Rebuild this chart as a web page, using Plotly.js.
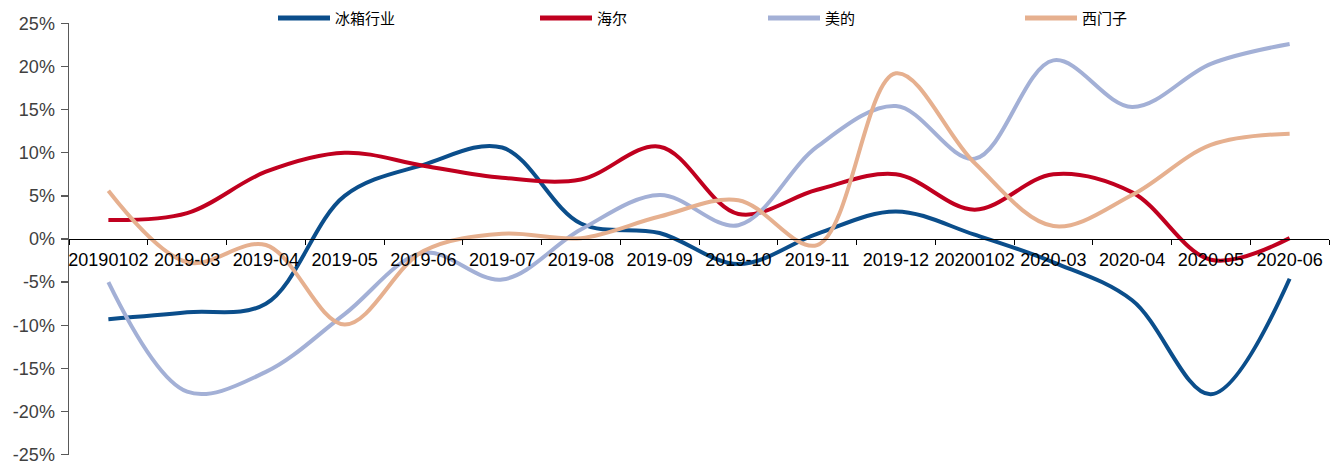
<!DOCTYPE html>
<html>
<head>
<meta charset="utf-8">
<script src="https://cdn.plot.ly/plotly-3.0.1.min.js"></script>
<style>html,body{margin:0;padding:0;background:#fff;}#chart{width:1343px;height:466px;}</style>
</head>
<body>
<div id="chart"></div>
<script>
const categories = ["20190102","2019-03","2019-04","2019-05","2019-06","2019-07","2019-08","2019-09","2019-10","2019-11","2019-12","20200102","2020-03","2020-04","2020-05","2020-06"];
const seriesNames = ["冰箱行业","海尔","美的","西门子"];
const fridgeIndustry = [-9.3,-8.5,-7.5,5.0,8.6,10.6,1.8,0.7,-2.9,0.6,3.2,0.5,-2.7,-7.1,-18.0,-4.6];
const haier = [2.2,3.0,7.8,10.0,8.5,7.1,6.9,10.7,2.9,5.7,7.5,3.4,7.5,5.4,-2.4,0.1];
const midea = [-5.0,-17.7,-15.4,-8.7,-1.6,-4.7,1.1,5.1,1.6,10.7,15.4,9.3,20.7,15.3,20.3,22.6];
const siemens = [5.6,-2.7,-0.7,-9.9,-1.4,0.6,0.1,2.6,4.5,-0.7,19.2,8.8,1.5,5.1,10.9,12.2];
const colors = ["#0b4e8b","#c0001f","#a3b0d6","#e6b08f"];
const yTicks = [-25,-20,-15,-10,-5,0,5,10,15,20,25];

const allSeries = [fridgeIndustry, haier, midea, siemens];
const traces = allSeries.map((vals, i) => ({
  type: "scatter",
  mode: "lines",
  x: categories,
  y: vals,
  name: seriesNames[i],
  line: {color: colors[i], width: 4, shape: "spline", smoothing: 1},
  showlegend: false,
  hoverinfo: "x+y+name"
}));

// custom legend (positions in pixels converted to paper coords)
const plotL = 69, plotW = 1260, plotT = 23, plotH = 432;
const legendStarts = [278, 540, 768, 1025];
const legendY = 18;
const px2x = p => (p - plotL) / plotW;
const py2y = p => 1 - (p - plotT) / plotH;
const shapes = [], annotations = [];
legendStarts.forEach((s, i) => {
  shapes.push({type: "line", xref: "paper", yref: "paper",
    x0: px2x(s), x1: px2x(s + 52), y0: py2y(legendY), y1: py2y(legendY),
    line: {color: colors[i], width: 5}});
  annotations.push({xref: "paper", yref: "paper", x: px2x(s + 55), y: py2y(legendY),
    xanchor: "left", yanchor: "middle", showarrow: false, text: seriesNames[i],
    font: {family: "Noto Sans CJK SC", size: 15, color: "#000"}});
});

const layout = {
  width: 1343, height: 466,
  margin: {l: plotL, r: 1343 - plotL - plotW, t: plotT, b: 466 - plotT - plotH, pad: 0},
  paper_bgcolor: "#fff", plot_bgcolor: "#fff",
  showlegend: false,
  xaxis: {
    type: "category", range: [-0.5, 15.5], anchor: "free", position: 0.5,
    tickson: "boundaries", ticks: "outside", ticklen: 5, tickwidth: 1, tickcolor: "#000",
    showline: true, linecolor: "#000", linewidth: 1, showgrid: false, zeroline: false,
    tickfont: {family: "Liberation Sans, Arial", size: 18, color: "#000"},
    ticklabelstandoff: 4, tickangle: 0
  },
  yaxis: {
    range: [-25.03, 25.03], tickvals: yTicks, ticktext: yTicks.map(v => v + "%"),
    ticks: "outside", ticklen: 7, tickwidth: 1.5, tickcolor: "#595959",
    showline: true, linecolor: "#595959", linewidth: 1.5, showgrid: false, zeroline: false,
    tickfont: {family: "Liberation Sans, Arial", size: 18, color: "#404040"},
    ticklabelstandoff: 2, ticklabeloverflow: "allow"
  },
  shapes: shapes,
  annotations: annotations
};

Plotly.newPlot("chart", traces, layout, {displayModeBar: false, staticPlot: true});
</script>
</body>
</html>
